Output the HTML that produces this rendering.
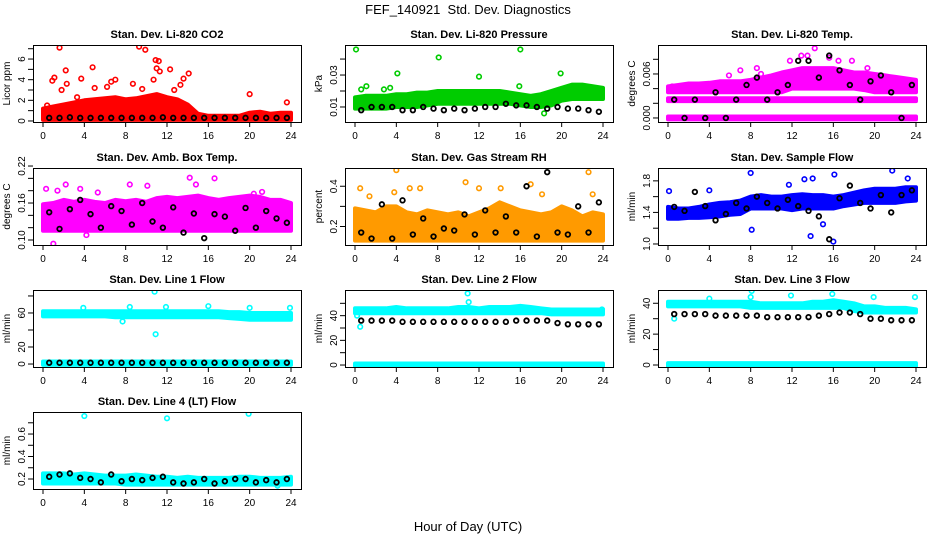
<!DOCTYPE html>
<html><head><meta charset="utf-8"><style>
body{margin:0;background:#fff}
svg{display:block;font-family:"Liberation Sans",Arial,sans-serif}
</style></head><body>
<svg id="c" width="936" height="540" viewBox="0 0 936 540">
<text x="468" y="14" text-anchor="middle" font-size="13">FEF_140921&#160; Std. Dev. Diagnostics</text>
<text x="468" y="531" text-anchor="middle" font-size="13">Hour of Day (UTC)</text>
</svg>
<script>
const hours=[0,1,2,3,4,5,6,7,8,9,10,11,12,13,14,15,16,17,18,19,20,21,22,23,24];
const xTicks=[0,4,8,12,16,20,24];
// CO2
const co2Lo=[0.1,0.1,0.1,0.1,0.1,0.1,0.1,0.1,0.1,0.1,0.1,0.1,0.1,0.1,0.1,0.1,0.1,0.1,0.1,0.1,0.1,0.1,0.1,0.1,0.1];
const co2Hi=[1.2,1.4,1.6,1.8,2.0,2.1,2.2,2.3,2.1,2.2,2.4,2.6,2.3,2.1,1.6,0.7,0.5,0.5,0.5,0.5,0.8,0.9,0.7,0.8,0.8];
const co2OutX=[1.6,0.9,1.1,2.2,3.7,4.8,9.3,9.9,10.9,11.2,11.0,11.3,12.3,13.6,14.1,7.0,6.6,8.7,5.0,20.0,23.6,0.4,10.7,13.3,2.3,1.8,3.3,6.2,12.7,9.6];
const co2OutY=[7.1,3.9,4.2,4.9,4.1,5.2,7.2,6.9,5.9,5.8,5.1,4.8,5.0,4.1,4.6,4.0,3.8,3.6,3.2,2.6,1.8,1.5,4.0,3.5,3.6,3.0,2.3,3.3,3.0,3.1];
const co2Black=[0.3,0.3,0.35,0.3,0.3,0.3,0.3,0.3,0.3,0.3,0.3,0.35,0.3,0.3,0.3,0.3,0.3,0.3,0.3,0.3,0.3,0.3,0.3,0.3];
// Pressure
const prLo=[0.009,0.009,0.009,0.009,0.010,0.010,0.010,0.011,0.012,0.012,0.012,0.012,0.012,0.012,0.012,0.012,0.011,0.010,0.010,0.011,0.014,0.015,0.015,0.015,0.015];
const prHi=[0.016,0.017,0.017,0.017,0.018,0.018,0.019,0.019,0.020,0.020,0.020,0.020,0.020,0.020,0.020,0.019,0.018,0.017,0.018,0.020,0.022,0.024,0.024,0.023,0.022];
const prOutX=[0.1,16.0,8.1,4.1,12.0,19.9,1.1,0.6,3.4,2.8,15.9,18.3];
const prOutY=[0.046,0.046,0.041,0.031,0.029,0.031,0.023,0.021,0.022,0.021,0.023,0.006];
const prBlack=[0.008,0.010,0.010,0.010,0.008,0.008,0.010,0.009,0.008,0.009,0.008,0.009,0.010,0.010,0.012,0.011,0.011,0.010,0.009,0.010,0.009,0.009,0.008,0.007];
// Temp
const tLo=[0.0035,0.0035,0.0035,0.0035,0.0035,0.0035,0.0035,0.0035,0.0035,0.0035,0.0035,0.0035,0.004,0.004,0.004,0.004,0.004,0.004,0.004,0.0038,0.0035,0.0035,0.0035,0.0035,0.0035];
const tHi=[0.0043,0.0045,0.0047,0.0047,0.0048,0.005,0.005,0.005,0.0052,0.0055,0.0058,0.0062,0.0065,0.0068,0.0068,0.0068,0.0068,0.0065,0.0062,0.0062,0.006,0.0058,0.0056,0.0054,0.0052];
const tRowLo=[0.0023,0.0023,0.0023,0.0023,0.0023,0.0023,0.0023,0.0023,0.0023,0.0023,0.0023,0.0023,0.0023,0.0023,0.0023,0.0023,0.0023,0.0023,0.0023,0.0023,0.0023,0.0023,0.0023,0.0023,0.0023];
const tRowHi=[0.0027,0.0027,0.0027,0.0027,0.0027,0.0027,0.0027,0.0027,0.0027,0.0027,0.0027,0.0027,0.0027,0.0027,0.0027,0.0027,0.0027,0.0027,0.0027,0.0027,0.0027,0.0027,0.0027,0.0027,0.0027];
const tZeroLo=[-0.0002,-0.0002,-0.0002,-0.0002,-0.0002,-0.0002,-0.0002,-0.0002,-0.0002,-0.0002,-0.0002,-0.0002,-0.0002,-0.0002,-0.0002,-0.0002,-0.0002,-0.0002,-0.0002,-0.0002,-0.0002,-0.0002,-0.0002,-0.0002,-0.0002];
const tZeroHi=[0.0002,0.0002,0.0002,0.0002,0.0002,0.0002,0.0002,0.0002,0.0002,0.0002,0.0002,0.0002,0.0002,0.0002,0.0002,0.0002,0.0002,0.0002,0.0002,0.0002,0.0002,0.0002,0.0002,0.0002,0.0002];
const tOutX=[14.2,13.5,11.8,12.9,15.6,8.6,5.9,7.0,16.5,9.0,0.4,17.8,19.3];
const tOutY=[0.0095,0.0085,0.0078,0.0085,0.0082,0.0068,0.0058,0.0065,0.0078,0.006,0.0043,0.0078,0.0068];
const tBlack=[0.0025,0,0.0025,0,0.0035,0,0.0025,0.0045,0.0055,0.0025,0.0035,0.0045,0.0078,0.0078,0.0055,0.0085,0.0065,0.0045,0.0025,0.005,0.0058,0.0035,0,0.0045];
// Amb box temp
const abLo=[0.115,0.115,0.115,0.115,0.115,0.115,0.115,0.115,0.115,0.115,0.115,0.115,0.115,0.115,0.115,0.115,0.115,0.115,0.115,0.115,0.115,0.115,0.115,0.115,0.115];
const abHi=[0.158,0.16,0.165,0.162,0.165,0.162,0.16,0.165,0.163,0.165,0.162,0.168,0.17,0.168,0.17,0.172,0.168,0.165,0.168,0.17,0.172,0.17,0.165,0.165,0.16];
const abOutX=[0.3,1.0,2.2,3.6,4.2,8.4,10.1,14.2,14.8,16.6,19.3,19.9,20.4,21.2,1.4,5.3,17.2];
const abOutY=[0.183,0.094,0.19,0.183,0.108,0.19,0.188,0.201,0.19,0.2,0.222,0.221,0.175,0.178,0.18,0.177,0.16];
const abBlack=[0.145,0.118,0.15,0.165,0.142,0.12,0.155,0.147,0.125,0.16,0.13,0.12,0.153,0.112,0.143,0.103,0.142,0.138,0.115,0.152,0.12,0.147,0.135,0.128];
// RH
const rhLo=[0.13,0.13,0.13,0.13,0.13,0.13,0.13,0.13,0.13,0.13,0.13,0.13,0.13,0.13,0.13,0.13,0.13,0.13,0.13,0.13,0.13,0.13,0.13,0.13,0.13];
const rhHi=[0.29,0.28,0.27,0.3,0.3,0.27,0.26,0.28,0.27,0.26,0.27,0.25,0.27,0.29,0.32,0.3,0.28,0.27,0.26,0.27,0.3,0.28,0.25,0.27,0.26];
const rhOutX=[0.5,4.0,5.3,6.3,10.7,12.0,14.1,17.0,18.1,22.6,3.8,1.4,23.0];
const rhOutY=[0.39,0.48,0.39,0.39,0.42,0.39,0.39,0.41,0.36,0.47,0.37,0.35,0.36];
const rhBlack=[0.17,0.14,0.31,0.14,0.33,0.16,0.24,0.15,0.19,0.18,0.26,0.16,0.28,0.17,0.25,0.17,0.40,0.15,0.47,0.17,0.16,0.30,0.17,0.32];
// Sample flow
const sfLo=[1.32,1.32,1.33,1.33,1.34,1.35,1.37,1.38,1.45,1.45,1.45,1.45,1.43,1.45,1.45,1.45,1.45,1.48,1.5,1.52,1.52,1.52,1.52,1.54,1.55];
const sfHi=[1.47,1.45,1.45,1.47,1.5,1.52,1.53,1.55,1.6,1.62,1.6,1.6,1.62,1.63,1.62,1.62,1.6,1.62,1.65,1.68,1.7,1.7,1.7,1.72,1.72];
const sfOutX=[0.1,8.0,8.1,11.7,13.2,14.0,16.1,16.0,21.7,23.2,13.8,4.0,15.0];
const sfOutY=[1.67,1.9,1.18,1.75,1.82,1.83,1.88,1.03,1.93,1.83,1.1,1.68,1.25];
const sfBlack=[1.47,1.42,1.66,1.48,1.3,1.38,1.52,1.45,1.6,1.52,1.45,1.56,1.48,1.42,1.35,1.06,1.58,1.74,1.52,1.45,1.62,1.4,1.62,1.68];
// Line1
const l1Lo=[56,56,56,56,56,56,56,55,55,55,55,55,55,55,55,55,55,55,54,53,52,52,52,52,52];
const l1Hi=[62,62,62,62,62,62,62,62,62,62,62,62,62,62,62,62,62,62,61,61,60,60,60,60,60];
const l1ZLo=[-1,-1,-1,-1,-1,-1,-1,-1,-1,-1,-1,-1,-1,-1,-1,-1,-1,-1,-1,-1,-1,-1,-1,-1,-1];
const l1ZHi=[3,3,3,3,3,3,3,3,3,3,3,3,3,3,3,3,3,3,3,3,3,3,3,3,3];
const l1OutX=[10.8,10.9,3.9,8.4,11.9,16,20,23.9,7.7];
const l1OutY=[85,35,66,67,67,68,66,66,50];
const l1Black=[1.5,1.5,1.5,1.5,1.5,1.5,1.5,1.5,1.5,1.5,1.5,1.5,1.5,1.5,1.5,1.5,1.5,1.5,1.5,1.5,1.5,1.5,1.5,1.5];
// Line2
const l2Lo=[42,42,42,42,42,42,42,42,42,42,42,42,42,42,42,42,42,42,42,41,41,41,41,41,41];
const l2Hi=[46,46,46,46,47,46,46,46,46,46,47,47,46,47,47,47,48,47,46,45,45,45,45,45,45];
const l2ZLo=[-0.8,-0.8,-0.8,-0.8,-0.8,-0.8,-0.8,-0.8,-0.8,-0.8,-0.8,-0.8,-0.8,-0.8,-0.8,-0.8,-0.8,-0.8,-0.8,-0.8,-0.8,-0.8,-0.8,-0.8,-0.8];
const l2ZHi=[1.2,1.2,1.2,1.2,1.2,1.2,1.2,1.2,1.2,1.2,1.2,1.2,1.2,1.2,1.2,1.2,1.2,1.2,1.2,1.2,1.2,1.2,1.2,1.2,1.2];
const l2OutX=[10.9,11.0,0.2,23.9,0.5];
const l2OutY=[58,51,40,45,31];
const l2Black=[36,36,36,36,35,35,35,35,35,35,35,35,35,35,35,36,36,36,36,34,33,33,33,33];
// Line3
const l3Lo=[38,38,38,38,38,38,38,38,37,37,37,37,37,37,37,37,37,37,35,34,34,34,34,34,34];
const l3Hi=[41,41,41,41,41,41,41,41,41,40,40,40,40,40,41,41,42,41,40,38,38,37,37,37,36];
const l3ZLo=[-0.8,-0.8,-0.8,-0.8,-0.8,-0.8,-0.8,-0.8,-0.8,-0.8,-0.8,-0.8,-0.8,-0.8,-0.8,-0.8,-0.8,-0.8,-0.8,-0.8,-0.8,-0.8,-0.8,-0.8,-0.8];
const l3ZHi=[1.2,1.2,1.2,1.2,1.2,1.2,1.2,1.2,1.2,1.2,1.2,1.2,1.2,1.2,1.2,1.2,1.2,1.2,1.2,1.2,1.2,1.2,1.2,1.2,1.2];
const l3OutX=[8.1,8.0,11.9,15.9,19.9,23.9,0.6,4.0];
const l3OutY=[48,44,45,46,44,44,30,43];
const l3Black=[33,33,33,33,32,32,32,32,32,31,31,31,31,31,32,33,34,34,33,30,30,29,29,29];
// Line4
const l4Lo=[0.16,0.16,0.16,0.16,0.16,0.16,0.16,0.16,0.15,0.15,0.15,0.15,0.15,0.15,0.15,0.15,0.15,0.15,0.15,0.15,0.15,0.15,0.15,0.15,0.15];
const l4Hi=[0.25,0.25,0.25,0.24,0.25,0.24,0.23,0.23,0.23,0.24,0.23,0.22,0.22,0.21,0.22,0.21,0.21,0.21,0.21,0.22,0.22,0.21,0.21,0.21,0.22];
const l4OutX=[4.0,12.0,19.9,22.7];
const l4OutY=[0.76,0.74,0.78,0.14];
const l4Black=[0.22,0.24,0.25,0.21,0.2,0.17,0.24,0.18,0.2,0.19,0.21,0.22,0.17,0.16,0.17,0.2,0.16,0.18,0.2,0.2,0.17,0.19,0.17,0.2];

const panels=[
 {name:'co2',title:'Stan. Dev. Li-820 CO2',ylab:'Licor ppm',col:'#ff0000',L:33,T:45,lo:-0.1,hi:7.36,ticks:[0,1,2,3,4,5,6,7],labels:[0,2,4,6],bands:[[co2Lo,co2Hi]],ox:co2OutX,oy:co2OutY,blk:co2Black},
 {name:'pressure',title:'Stan. Dev. Li-820 Pressure',ylab:'kPa',col:'#00cc00',L:345,T:45,lo:0.0006,hi:0.0488,ticks:[0.01,0.02,0.03,0.04],labels:['0.01','0.03'],bands:[[prLo,prHi]],ox:prOutX,oy:prOutY,blk:prBlack},
 {name:'li820-temp',title:'Stan. Dev. Li-820 Temp.',ylab:'degrees C',col:'#ff00ff',L:658,T:45,lo:-0.00055,hi:0.00995,ticks:[0,0.002,0.004,0.006,0.008],labels:['0.000','0.006'],bands:[[tLo,tHi],[tRowLo,tRowHi],[tZeroLo,tZeroHi]],ox:tOutX,oy:tOutY,blk:tBlack},
 {name:'amb-box-temp',title:'Stan. Dev. Amb. Box Temp.',ylab:'degrees C',col:'#ff00ff',L:33,T:168,lo:0.0919,hi:0.2168,ticks:[0.10,0.12,0.14,0.16,0.18,0.20,0.22],labels:['0.10','0.16','0.22'],bands:[[abLo,abHi]],ox:abOutX,oy:abOutY,blk:abBlack},
 {name:'gas-stream-rh',title:'Stan. Dev. Gas Stream RH',ylab:'percent',col:'#ff9a00',L:345,T:168,lo:0.108,hi:0.4907,ticks:[0.2,0.3,0.4],labels:['0.2','0.4'],bands:[[rhLo,rhHi]],ox:rhOutX,oy:rhOutY,blk:rhBlack},
 {name:'sample-flow',title:'Stan. Dev. Sample Flow',ylab:'ml/min',col:'#0000ff',L:658,T:168,lo:0.987,hi:1.963,ticks:[1.0,1.2,1.4,1.6,1.8],labels:['1.0','1.4','1.8'],bands:[[sfLo,sfHi]],ox:sfOutX,oy:sfOutY,blk:sfBlack},
 {name:'line1-flow',title:'Stan. Dev. Line 1 Flow',ylab:'ml/min',col:'#00ffff',L:33,T:290,lo:-3.5,hi:87,ticks:[0,20,40,60,80],labels:[0,20,60],bands:[[l1Lo,l1Hi],[l1ZLo,l1ZHi]],ox:l1OutX,oy:l1OutY,blk:l1Black},
 {name:'line2-flow',title:'Stan. Dev. Line 2 Flow',ylab:'ml/min',col:'#00ffff',L:345,T:290,lo:-1.6,hi:60.8,ticks:[0,10,20,30,40,50],labels:[0,20,40],bands:[[l2Lo,l2Hi],[l2ZLo,l2ZHi]],ox:l2OutX,oy:l2OutY,blk:l2Black},
 {name:'line3-flow',title:'Stan. Dev. Line 3 Flow',ylab:'ml/min',col:'#00ffff',L:658,T:290,lo:-1.3,hi:48.6,ticks:[0,10,20,30,40],labels:[0,20,40],bands:[[l3Lo,l3Hi],[l3ZLo,l3ZHi]],ox:l3OutX,oy:l3OutY,blk:l3Black},
 {name:'line4-flow',title:'Stan. Dev. Line 4 (LT) Flow',ylab:'ml/min',col:'#00ffff',L:33,T:412,lo:0.111,hi:0.796,ticks:[0.2,0.3,0.4,0.5,0.6,0.7],labels:['0.2','0.4','0.6'],bands:[[l4Lo,l4Hi]],ox:l4OutX,oy:l4OutY,blk:l4Black}
];
const W=268,H=77,NS='http://www.w3.org/2000/svg';
const svg=document.getElementById('c');
function mk(tag,attrs,parent,text){const e=document.createElementNS(NS,tag);for(const k in attrs)e.setAttribute(k,attrs[k]);if(text!==undefined)e.textContent=text;parent.appendChild(e);return e;}
panels.forEach(p=>{
 const g=mk('g',{},svg);
 
 
 const xs=h=>p.L+10+h*(W-20)/24;
 const ys=v=>p.T+H*(p.hi-v)/(p.hi-p.lo);
 const B=p.T+H;
 const t=mk('text',{x:p.L+W/2,y:p.T-7,'text-anchor':'middle','font-size':'11','font-weight':'bold'},g,p.title);
 
 
 const cp='cp-'+p.name;
 const cl=mk('clipPath',{id:cp},g);mk('rect',{x:p.L,y:p.T,width:W,height:H},cl);
 const dg=mk('g',{'clip-path':'url(#'+cp+')'},g);
 p.bands.forEach(b=>{
  let d='';hours.forEach((h,i)=>{d+=(i?'L':'M')+xs(h).toFixed(1)+','+ys(b[1][i]).toFixed(1);});
  for(let i=hours.length-1;i>=0;i--)d+='L'+xs(hours[i]).toFixed(1)+','+ys(b[0][i]).toFixed(1);
  const band=mk('path',{d:d+'Z',fill:p.col,stroke:p.col,'stroke-width':'4','stroke-linejoin':'round'},dg);
  
  
 });
 p.ox.forEach((h,i)=>{
  const c=mk('circle',{cx:xs(h),cy:ys(p.oy[i]),r:2.3,fill:'none',stroke:p.col,'stroke-width':'1.6'},dg);
  
  
 });
 p.blk.forEach((v,i)=>{
  const c=mk('circle',{cx:xs(i+0.6),cy:ys(v),r:2.3,fill:'none',stroke:'#000','stroke-width':'1.8'},dg);
  
  
 });
 mk('rect',{x:p.L+0.5,y:p.T+0.5,width:W,height:H,fill:'none',stroke:'#000','stroke-width':'1'},g);
 xTicks.forEach(h=>{
  mk('line',{x1:xs(h),x2:xs(h),y1:B,y2:B+5,stroke:'#000'},g);
  const tl=mk('text',{x:xs(h),y:B+17,'text-anchor':'middle','font-size':'10'},g,String(h));
  
  
 });
 p.ticks.forEach(v=>{mk('line',{x1:p.L-5,x2:p.L,y1:ys(v),y2:ys(v),stroke:'#000'},g);});
 p.labels.forEach(v=>{
  const y=ys(+v),x=p.L-8;
  const tl=mk('text',{x:x,y:y,'text-anchor':'middle','font-size':'10',transform:'rotate(-90 '+x+' '+y+')'},g,String(v));
  
  
 });
 const yx=p.L-23,yy=p.T+H/2;
 const yl=mk('text',{x:yx,y:yy,'text-anchor':'middle','font-size':'10',transform:'rotate(-90 '+yx+' '+yy+')'},g,p.ylab);
 
 
});
</script>
</body></html>
